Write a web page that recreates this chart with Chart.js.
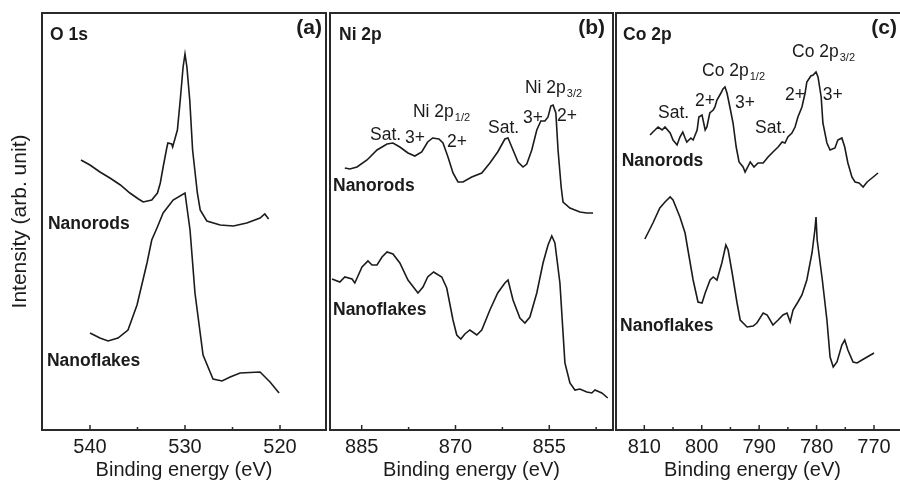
<!DOCTYPE html>
<html><head><meta charset="utf-8">
<script src="https://cdn.jsdelivr.net/npm/chart.js"></script>
<style>
html,body{margin:0;padding:0;background:#fff;overflow:hidden;}
#wrap{position:relative;width:900px;height:487px;overflow:hidden;}
canvas{position:absolute;left:0;top:0;}
</style></head><body>
<div id="wrap">
<canvas id="ca" width="900" height="487"></canvas>
<canvas id="cb" width="900" height="487"></canvas>
<canvas id="cc" width="900" height="487"></canvas>
</div>
<script>
// ---------- Panel (a) O 1s ----------
const energyRodsA = [540.95,540,538.95,537.9,536.8,535.8,534.9,534.4,533.5,532.9,532.6,532.3,531.9,531.8,531.4,531.3,530.8,530.5,530.2,530.0,529.8,529.5,529.2,528.7,528.4,527.7,526.3,524.9,523.5,522.1,521.6,521.2];
const intensityRodsA = [270,265,258,252,245,237,231,228,230,237,247,263,283,287,286,283,300,330,363,376,363,330,280,237,220,209,205,204,207,212,216,211];
const energyFlakesA = [540,538.95,538.1,537.05,536.0,535.05,534.0,533.5,532.95,532.3,531.25,530.0,529.47,528.95,528.1,527.05,526.1,525.25,524.2,522.1,521.05,520.1];
const intensityFlakesA = [97,92,89,92,100,125,167,190,202,217,230,237,200,137,75,51,49,53,57,58,48,37];
const ticksA = [540,535,530,525,520];
const tickLabelsA = [540,530,520];

// ---------- Panel (b) Ni 2p ----------
const energyRodsB = [887.7,886.9,885.75,884.15,882.55,880.95,880.0,878.9,877.6,876.5,875.4,874.45,873.65,872.65,872.0,871.2,870.4,869.6,868.8,867.4,865.8,864.5,863.25,862.1,861.6,861.0,860.0,859.2,858.6,857.8,857.0,856.35,855.7,855.2,854.75,854.4,853.95,853.6,853.1,852.8,851.7,850.1,849.0,848.0];
const intensityRodsB = [262,261,263,270,280,286,287,283,277,274,278,288,292,291,287,273,257,248,248,253,257,267,278,291,292,283,268,263,266,280,300,309,309,313,324,325,317,280,243,228,222,218,217,217];
const energyFlakesB = [889.75,888.5,887.7,886.55,886.1,884.95,884.0,883.35,882.55,881.75,880.95,880.0,878.9,877.6,876.0,875.2,874.45,873.5,872.2,871.4,870.4,869.8,869.15,868.5,867.7,866.6,865.8,864.5,863.25,862.1,861.6,860.8,859.7,858.9,858.1,857.0,856.0,855.2,854.6,854.1,853.3,852.5,851.7,850.9,850.1,849.0,848.2,847.7,846.6,845.65];
const intensityFlakesB = [151,148,153,151,147,163,169,165,165,173,178,176,167,150,137,143,153,158,153,142,110,95,91,96,100,95,100,120,137,147,150,130,112,107,113,137,167,185,194,187,147,67,47,40,41,38,37,40,37,32];
const ticksB = [885,877.5,870,862.5,855,847.5];
const tickLabelsB = [885,870,855];

// ---------- Panel (c) Co 2p ----------
const energyRodsC = [809.0,808.5,807.6,806.9,806.4,805.5,805.0,804.3,803.8,803.3,802.9,802.6,801.9,801.5,800.8,800.5,799.95,799.4,799.1,798.6,798.0,797.7,797.35,796.65,796.3,795.95,795.6,795.1,794.55,794.0,793.5,792.8,792.45,791.55,790.9,790.2,789.3,788.45,787.6,786.7,786.0,785.5,785.0,784.3,783.75,783.25,782.55,782.0,781.7,781.0,780.6,780.1,779.75,779.2,778.9,778.2,777.65,776.8,776.3,775.6,775.1,774.55,773.85,773.3,772.6,771.9,771.2,770.35,769.3];
const intensityRodsC = [295,298,303,300,303,297,290,285,293,298,292,288,292,290,300,313,315,300,303,317,320,323,330,337,341,343,337,323,307,283,268,263,258,268,263,267,267,273,278,283,288,287,293,297,303,313,323,337,348,354,355,358,353,333,307,287,280,282,290,292,283,267,253,248,247,243,248,252,257];
const energyFlakesC = [809.9,808.5,807.3,806.4,805.5,805.0,803.8,802.9,802.4,801.5,800.65,799.95,799.4,798.55,798.0,797.35,796.5,795.8,795.4,794.7,793.85,793.3,792.1,791.05,790.4,789.3,788.6,787.6,786.7,785.85,785.15,784.6,784.1,783.25,782.55,781.7,780.8,780.3,780.1,779.9,779.0,778.2,777.65,777.1,776.45,775.6,775.1,774.55,773.65,772.95,772.1,771.2,770.0];
const intensityFlakesC = [191,207,222,228,233,230,213,197,180,150,128,127,137,150,153,150,167,185,180,157,127,110,103,104,107,117,115,105,110,115,117,108,120,128,135,150,177,200,213,190,150,110,73,63,68,85,90,80,68,67,70,73,77];
const ticksC = [810,805,800,795,790,785,780,775,770];
const tickLabelsC = [810,800,790,780,770];

// ---------- Text labels (anchored in data coordinates) ----------
const notesA = [
  {t:'Nanorods', x:544.42, y:201, bold:true},
  {t:'Nanoflakes', x:544.53, y:64, bold:true}
];
const notesB = [
  {t:'Nanorods', x:889.59, y:239, bold:true},
  {t:'Nanoflakes', x:889.59, y:115, bold:true},
  {t:'Sat.', x:883.67, y:290},
  {t:'3+', x:878.08, y:287},
  {t:'Ni 2p', sub:'1/2', x:876.80, y:313},
  {t:'2+', x:871.36, y:283},
  {t:'Sat.', x:864.80, y:297},
  {t:'3+', x:859.2, y:307},
  {t:'Ni 2p', sub:'3/2', x:858.89, y:337},
  {t:'2+', x:853.77, y:309}
];
const notesC = [
  {t:'Nanorods', x:813.94, y:264, bold:true},
  {t:'Nanoflakes', x:814.23, y:99, bold:true},
  {t:'Sat.', x:807.61, y:312},
  {t:'2+', x:801.17, y:324},
  {t:'Co 2p', sub:'1/2', x:799.95, y:354},
  {t:'3+', x:794.21, y:322},
  {t:'Sat.', x:790.72, y:297},
  {t:'2+', x:785.50, y:330},
  {t:'Co 2p', sub:'3/2', x:784.28, y:373},
  {t:'3+', x:778.92, y:330}
];

const FAM = "'Liberation Sans', Arial, Helvetica, sans-serif";
const INK = '#1b1b1b';

const deco = {
  id: 'deco',
  afterDraw(chart, args, o) {
    const {ctx, chartArea: a, scales: {x, y}} = chart;
    ctx.save();
    ctx.strokeStyle = '#2a2a2a';
    ctx.lineWidth = 2;
    ctx.beginPath();
    if (o.openRight) {
      ctx.moveTo(chart.width + 5, a.top);
      ctx.lineTo(a.left, a.top);
      ctx.lineTo(a.left, a.bottom);
      ctx.lineTo(chart.width + 5, a.bottom);
    } else {
      ctx.rect(a.left, a.top, a.right - a.left, a.bottom - a.top);
    }
    ctx.stroke();
    ctx.lineWidth = 1.5;
    ctx.beginPath();
    x.ticks.forEach(t => {
      const px = x.getPixelForValue(t.value);
      const len = (t.label !== '' ? 5 : 3);
      ctx.moveTo(px, a.bottom);
      ctx.lineTo(px, a.bottom - len);
    });
    ctx.stroke();
    ctx.fillStyle = INK;
    ctx.textBaseline = 'alphabetic';
    ctx.textAlign = 'left';
    ctx.font = 'bold 17.5px ' + FAM;
    ctx.fillText(o.title, a.left + o.titleDx, a.top + 27);
    ctx.textAlign = 'right';
    ctx.font = 'bold 21px ' + FAM;
    ctx.fillText(o.tag, a.right + o.tagDx, a.top + 21);
    ctx.textAlign = 'left';
    (o.notes || []).forEach(n => {
      const px = x.getPixelForValue(n.x), py = y.getPixelForValue(n.y);
      ctx.font = (n.bold ? 'bold 17.5px ' : '17.5px ') + FAM;
      ctx.fillText(n.t, px, py);
      if (n.sub) {
        const w = ctx.measureText(n.t).width;
        ctx.font = '11px ' + FAM;
        ctx.fillText(n.sub, px + w + 1, py + 4);
      }
    });
    ctx.restore();
  }
};

function zip(e, v) { return e.map((xv, i) => ({x: xv, y: v[i]})); }

function panel(id, c) {
  const ds = (e, v) => ({data: zip(e, v), borderColor: INK, borderWidth: 1.6, pointRadius: 0, tension: 0, fill: false});
  return new Chart(document.getElementById(id), {
    type: 'line',
    data: {datasets: [ds(c.rodE, c.rodI), ds(c.flakeE, c.flakeI)]},
    options: {
      responsive: false, animation: false, devicePixelRatio: 1,
      layout: {padding: {left: c.padL, right: c.padR, top: 13, bottom: 0}},
      plugins: {legend: {display: false}, tooltip: {enabled: false},
        deco: {title: c.title, titleDx: c.titleDx, tag: c.tag, tagDx: c.tagDx, notes: c.notes, openRight: !!c.openRight}},
      scales: {
        x: {
          type: 'linear', reverse: true, min: c.min, max: c.max,
          afterBuildTicks: s => { s.ticks = c.ticks.map(v => ({value: v})); },
          afterFit: s => { s.height = 57; },
          grid: {display: false, drawTicks: false, tickLength: 0}, border: {display: false},
          ticks: {autoSkip: false, maxRotation: 0, padding: 5, color: INK,
                  font: {size: 20, family: FAM},
                  callback: v => c.labels.includes(v) ? String(v) : ''},
          title: {display: true, text: 'Binding energy (eV)', color: INK,
                  font: {size: 20, family: FAM}, padding: {top: 0, bottom: 5}}
        },
        y: {
          min: 0, max: 417, display: !!c.showY,
          afterFit: s => { if (c.showY) s.width = 42; },
          grid: {display: false, drawTicks: false}, border: {display: false},
          ticks: {display: false},
          title: {display: true, text: 'Intensity (arb. unit)', color: INK,
                  font: {size: 21, family: FAM}, padding: {top: 8, bottom: 0}}
        }
      }
    },
    plugins: [deco]
  });
}

panel('ca', {rodE: energyRodsA, rodI: intensityRodsA, flakeE: energyFlakesA, flakeI: intensityFlakesA,
  ticks: ticksA, labels: tickLabelsA, min: 515.16, max: 545.05, padL: 0, padR: 574, showY: true,
  title: 'O 1s', titleDx: 8, tag: '(a)', tagDx: -4, notes: notesA});
panel('cb', {rodE: energyRodsB, rodI: intensityRodsB, flakeE: energyFlakesB, flakeI: intensityFlakesB,
  ticks: ticksB, labels: tickLabelsB, min: 844.81, max: 890.07, padL: 330, padR: 287,
  title: 'Ni 2p', titleDx: 9, tag: '(b)', tagDx: -8, notes: notesB});
panel('cc', {rodE: energyRodsC, rodI: intensityRodsC, flakeE: energyFlakesC, flakeI: intensityFlakesC,
  ticks: ticksC, labels: tickLabelsC, min: 767.39, max: 814.93, padL: 616, padR: 11, openRight: true,
  title: 'Co 2p', titleDx: 7, tag: '(c)', tagDx: 8, notes: notesC});
</script>
</body></html>
